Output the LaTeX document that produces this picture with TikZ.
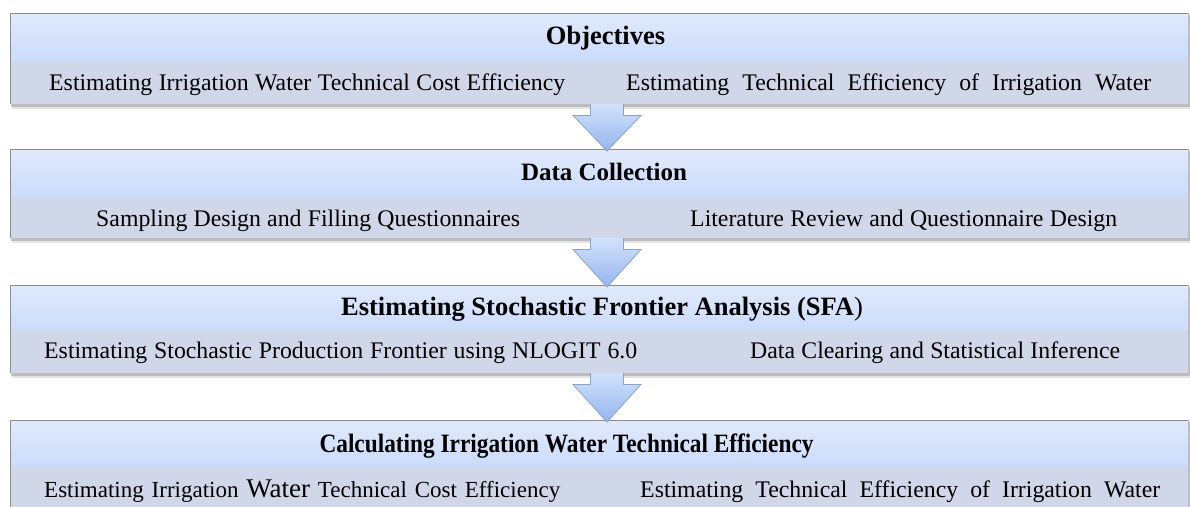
\documentclass[tikz,border=0pt]{standalone}
\usepackage{fontspec}
\setmainfont{Liberation Serif}
\usetikzlibrary{calc}
\definecolor{hdtop}{HTML}{E1EAFC}
\definecolor{hdbot}{HTML}{CADBFA}
\definecolor{lowband}{HTML}{CFD7E9}
\definecolor{arrtop}{HTML}{D2E2FB}
\definecolor{arrbot}{HTML}{94B5EE}
\definecolor{arredge}{HTML}{8CA3C6}
\definecolor{boxedge}{HTML}{8C8C8C}
\tikzset{
  titletext/.style={font=\fontsize{#1}{28}\selectfont\bfseries, inner sep=0pt, anchor=base},
  titletext/.default=26,
  itemtext/.style={font=\fontsize{23.8}{26}\selectfont, inner sep=0pt, anchor=base west},
  blockarrow/.style={top color=arrtop, bottom color=arrbot, draw=arredge, line width=0.8pt, line join=miter},
}
\newcommand{\flowbox}[4]{% top, mid, bottom, name
  \fill[black!35, opacity=0.3] (12,#1+3) rectangle (1190,#3+5);
  \fill[black!45, opacity=0.45] (11,#1+2) rectangle (1190,#3+2.5);
  \shade[top color=hdtop, bottom color=hdbot] (10,#1) rectangle (1188,#2);
  \fill[lowband] (10,#2) rectangle (1188,#3);
  \draw[boxedge, line width=1pt] (10,#3) -- (10,#1) -- (1188,#1);
  \draw[black!25, line width=0.6pt] (1188,#1) -- (1188,#3);
  \coordinate (#4n) at (607,#1);
  \coordinate (#4s) at (607,#3);
}
\newcommand{\blockarrow}[2]{% from box, to box
  \draw[blockarrow] ($(#1s)+(-16.5,0)$) -- ($(#1s)+(-16.5,11.5)$) -- ($(#1s)+(-34,11.5)$)
    -- ($(#2n)+(0,2)$) -- ($(#1s)+(34,11.5)$) -- ($(#1s)+(16.5,11.5)$) -- ($(#1s)+(16.5,0)$);
}
\newcommand{\spread}[2]{\makebox[#1pt][s]{#2}}
\begin{document}
\begin{tikzpicture}[x=1pt,y=-1pt]
\useasboundingbox (0,0) rectangle (1190,506);
\begin{scope}
\clip (0,0) rectangle (1190,506);
\flowbox{13}{61}{104}{b1}
\flowbox{149}{197}{238}{b2}
\flowbox{285}{330}{373}{b3}
\flowbox{420}{467}{512}{b4}
\blockarrow{b1}{b2}
\blockarrow{b2}{b3}
\blockarrow{b3}{b4}

\node[titletext=26.5] (t1) at (605.5,44) {Objectives};
\node[itemtext] (l1) at (49,90) {\spread{516}{Estimating Irrigation Water Technical Cost Efficiency}};
\node[itemtext] (r1) at (626,90) {\spread{525}{Estimating Technical Efficiency of Irrigation Water}};

\node[titletext=25] (t2) at (604,180) {Data Collection};
\node[itemtext] (l2) at (96,226) {\spread{424}{Sampling Design and Filling Questionnaires}};
\node[itemtext] (r2) at (690,226) {\spread{427}{Literature Review and Questionnaire Design}};

\node[titletext=26.5] (t3) at (602,315) {Estimating Stochastic Frontier Analysis (SFA\mdseries)};
\node[itemtext] (l3) at (44,358) {\spread{593}{Estimating Stochastic Production Frontier using NLOGIT 6.0}};
\node[itemtext] (r3) at (750,358) {\spread{370}{Data Clearing and Statistical Inference}};

\node[titletext=26.5] (t4) at (566.5,452) {\scalebox{0.88}[1]{Calculating Irrigation Water Technical Efficiency}};
\node[itemtext] (l4) at (44,497) {\spread{516}{\fontsize{23}{26}\selectfont Estimating Irrigation {\fontsize{27}{30}\selectfont Water} Technical Cost Efficiency}};
\node[itemtext] (r4) at (640,497) {\spread{520}{Estimating Technical Efficiency of Irrigation Water}};
\end{scope}
\end{tikzpicture}
\end{document}
